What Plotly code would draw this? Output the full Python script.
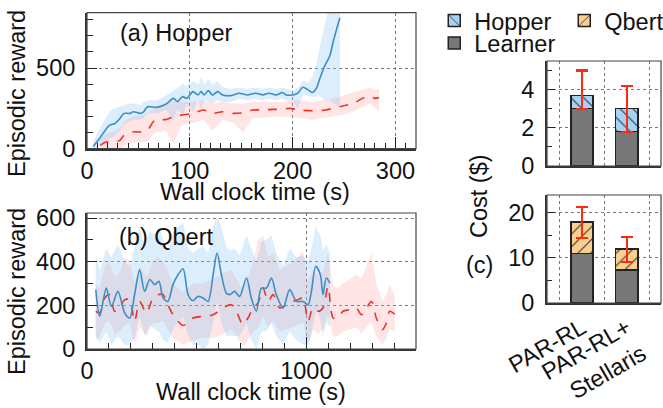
import plotly.graph_objects as go

# ---------------- data ----------------
# (a) Hopper
hop_t_st = [6, 12, 22, 27, 32, 36, 42, 45, 52, 55, 59, 68, 77, 84, 88, 93, 97, 103, 108, 111,
            114, 118, 122, 127, 132, 140, 148, 156, 164, 171, 177, 184, 190, 194, 200, 205, 210, 215, 219, 223,
            226, 231, 236, 240, 246]
hop_st = [14, 62, 146, 156, 187, 219, 219, 229, 219, 229, 260, 256, 277, 312, 292, 323, 312, 354, 333, 354,
          333, 360, 333, 354, 333, 329, 344, 333, 344, 333, 344, 333, 348, 333, 333, 344, 381, 365, 348, 373,
          427, 510, 573, 677, 812]
hop_st_hi = [40, 120, 230, 250, 260, 270, 280, 280, 270, 290, 300, 300, 330, 360, 380, 400, 390, 420, 400, 440,
             400, 430, 400, 420, 380, 370, 380, 370, 380, 370, 380, 370, 380, 370, 360, 380, 420, 410, 440, 520,
             620, 760, 900, 900, 900]
hop_st_lo = [0, 10, 60, 80, 110, 150, 170, 180, 180, 190, 220, 220, 240, 170, 250, 200, 280, 230, 300, 250,
             300, 290, 280, 300, 290, 290, 310, 300, 310, 300, 310, 300, 310, 300, 300, 250, 330, 330, 320, 320,
             330, 300, 300, 280, 260]

hop_t_pr = [13, 18, 28, 32, 36, 45, 55, 59, 66, 77, 84, 92, 103, 113, 122, 132, 142, 152, 161, 171,
            181, 190, 197, 207, 219, 232, 239, 249, 259, 268, 275, 280, 284]
hop_pr = [21, 40, 44, 52, 83, 104, 104, 115, 177, 181, 198, 208, 219, 240, 219, 229, 219, 223, 240, 240,
          244, 244, 250, 240, 235, 240, 250, 265, 281, 312, 327, 312, 317]
hop_pr_hi = [60, 90, 110, 130, 170, 200, 210, 220, 260, 270, 300, 290, 290, 300, 280, 290, 280, 280, 290, 290,
             290, 290, 300, 300, 290, 300, 310, 330, 350, 370, 380, 370, 370]
hop_pr_lo = [0, 0, 0, 0, 20, 40, 40, 50, 100, 110, 30, 150, 160, 180, 110, 180, 160, 100, 190, 190,
             200, 200, 200, 190, 180, 190, 200, 210, 230, 260, 280, 250, 230]

# (b) Qbert
qb_t_st = [40, 58, 88, 111, 141, 172, 195, 217, 240, 263, 286, 309, 328, 347, 369, 392, 415, 438, 461, 483,
           506, 529, 552, 575, 593, 613, 635, 651, 673, 696, 727, 749, 772, 795, 818, 841, 863, 894, 924, 955,
           985, 1008, 1023, 1043, 1064, 1076, 1091, 1107]
qb_st = [272, 150, 279, 195, 264, 165, 142, 249, 363, 264, 318, 295, 310, 234, 218, 295, 340, 368, 249, 221,
         241, 234, 218, 340, 440, 340, 256, 249, 264, 241, 325, 234, 173, 279, 279, 325, 249, 188, 272, 218,
         218, 203, 264, 379, 340, 249, 325, 302]
qb_st_hi = [430, 360, 460, 420, 480, 400, 380, 470, 550, 470, 540, 520, 560, 500, 440, 530, 560, 580, 460, 440,
            460, 470, 440, 560, 610, 560, 470, 450, 460, 430, 520, 460, 400, 490, 500, 520, 440, 380, 460, 420,
            430, 400, 460, 560, 520, 450, 480, 440]
qb_st_lo = [60, 30, 80, 20, 60, 20, 20, 50, 150, 60, 110, 90, 80, 40, 30, 90, 120, 150, 60, 20,
            20, 0, 20, 120, 220, 120, 60, 60, 60, 60, 120, 40, 0, 80, 80, 120, 60, 20, 80, 40,
            20, 20, 60, 180, 140, 60, 120, 100]

qb_t_pr = [40, 58, 81, 103, 126, 149, 172, 195, 217, 240, 271, 301, 324, 347, 369, 392, 438, 483, 529, 575,
           620, 658, 681, 711, 734, 757, 780, 803, 826, 848, 879, 909, 939, 962, 985, 1008, 1030, 1053, 1076, 1099,
           1122, 1145, 1167, 1198, 1228, 1251, 1274, 1297, 1319, 1347, 1365, 1380, 1403]
qb_pr = [173, 165, 234, 249, 173, 188, 226, 226, 127, 218, 165, 234, 249, 249, 203, 157, 108, 142, 150, 157,
         188, 203, 173, 111, 142, 188, 211, 279, 218, 249, 188, 203, 218, 226, 234, 127, 188, 173, 188, 287,
         142, 142, 173, 180, 188, 157, 188, 218, 142, 89, 119, 173, 160]
qb_pr_hi = [300, 280, 380, 400, 330, 350, 420, 400, 300, 380, 330, 400, 420, 400, 360, 300, 260, 300, 300, 320,
            350, 360, 320, 270, 330, 400, 500, 520, 420, 440, 360, 380, 400, 420, 450, 310, 360, 340, 360, 440,
            290, 280, 300, 320, 340, 320, 380, 440, 300, 220, 250, 300, 240]
qb_pr_lo = [40, 60, 120, 130, 70, 80, 110, 120, 20, 100, 60, 120, 120, 130, 90, 50, 20, 40, 50, 50,
            70, 90, 60, 10, 40, 80, 100, 150, 100, 130, 80, 90, 100, 110, 120, 30, 90, 70, 90, 160,
            60, 60, 80, 90, 100, 70, 100, 120, 60, 20, 50, 90, 80]

# (c) Cost
systems = ["PAR-RL", "PAR-RL+<br>Stellaris"]
hop_learner = [3.0, 1.8]
hop_env = [0.7, 1.2]
hop_err_hi = [5.0, 4.2]
hop_err_lo = [3.0, 1.8]
qb_learner = [11.0, 7.3]
qb_env = [7.0, 4.7]
qb_err_hi = [21.3, 14.7]
qb_err_lo = [14.4, 9.1]

# ---------------- styling ----------------
FONT = "Liberation Sans, Arial, Helvetica, sans-serif"
FS = 23.5
BLUE = "#3d8ec6"
RED = "#ee3326"
BLUE_BAND = "rgba(140,195,245,0.30)"
RED_BAND = "rgba(255,150,150,0.25)"
GREY = "#777777"
HOP_C = "#a6d3f5"
QB_C = "#f8cf8e"

fig = go.Figure()


def band(t, hi, lo, color, xa, ya):
    fig.add_trace(go.Scatter(x=list(t) + list(t)[::-1], y=list(hi) + list(lo)[::-1],
                             fill="toself", fillcolor=color, line=dict(width=0),
                             mode="lines", hoverinfo="skip", showlegend=False,
                             xaxis=xa, yaxis=ya))


def line(t, y, color, dash, xa, ya):
    fig.add_trace(go.Scatter(x=t, y=y, mode="lines",
                             line=dict(color=color, width=1.6, dash=dash, shape="spline", smoothing=0.8),
                             showlegend=False, xaxis=xa, yaxis=ya))


band(hop_t_pr, hop_pr_hi, hop_pr_lo, RED_BAND, "x", "y")
band(hop_t_st, hop_st_hi, hop_st_lo, BLUE_BAND, "x", "y")
line(hop_t_pr, hop_pr, RED, "dash", "x", "y")
line(hop_t_st, hop_st, BLUE, "solid", "x", "y")

band(qb_t_pr, qb_pr_hi, qb_pr_lo, RED_BAND, "x2", "y2")
band(qb_t_st, qb_st_hi, qb_st_lo, BLUE_BAND, "x2", "y2")
line(qb_t_pr, qb_pr, RED, "dash", "x2", "y2")
line(qb_t_st, qb_st, BLUE, "solid", "x2", "y2")

outline = dict(color="#222222", width=1.5)
hop_tot = [a + b for a, b in zip(hop_learner, hop_env)]
qb_tot = [a + b for a, b in zip(qb_learner, qb_env)]

fig.add_trace(go.Bar(x=systems, y=hop_learner, name="Learner", width=0.5,
                     marker=dict(color=GREY, line=outline), xaxis="x3", yaxis="y3",
                     legend="legend2", showlegend=True))
fig.add_trace(go.Bar(x=systems, y=hop_env, name="Hopper", width=0.5,
                     marker=dict(color=HOP_C, line=outline,
                                 pattern=dict(shape="\\", fgcolor="#333333", bgcolor=HOP_C, size=9, solidity=0.12)),
                     error_y=dict(type="data", symmetric=False,
                                  array=[h - t for h, t in zip(hop_err_hi, hop_tot)],
                                  arrayminus=[t - l for t, l in zip(hop_tot, hop_err_lo)],
                                  color="#ff2a14", thickness=2.2, width=6),
                     xaxis="x3", yaxis="y3", legend="legend", showlegend=True))
fig.add_trace(go.Bar(x=systems, y=qb_learner, name="Learner", width=0.5,
                     marker=dict(color=GREY, line=outline), xaxis="x4", yaxis="y4", showlegend=False))
fig.add_trace(go.Bar(x=systems, y=qb_env, name="Qbert", width=0.5,
                     marker=dict(color=QB_C, line=outline,
                                 pattern=dict(shape="/", fgcolor="#333333", bgcolor=QB_C, size=9, solidity=0.12)),
                     error_y=dict(type="data", symmetric=False,
                                  array=[h - t for h, t in zip(qb_err_hi, qb_tot)],
                                  arrayminus=[t - l for t, l in zip(qb_tot, qb_err_lo)],
                                  color="#ff2a14", thickness=2.2, width=6),
                     xaxis="x4", yaxis="y4", legend="legend", showlegend=True))

tickfont = dict(family=FONT, size=FS, color="#111")
grid = dict(showgrid=True, gridcolor="#777777", griddash="dot", gridwidth=1)
axline = dict(showline=True, linecolor="#333333", linewidth=2, zeroline=False, automargin=False)

XL = [87 / 663, 416 / 663]
XR = [547 / 663, 661 / 663]

fig.update_layout(
    template="none",
    width=663, height=408, margin=dict(l=0, r=0, t=0, b=0, autoexpand=False),
    paper_bgcolor="white", plot_bgcolor="white",
    font=dict(family=FONT, size=FS, color="#111"),
    barmode="stack",
    xaxis=dict(domain=XL, anchor="y", range=[0, 320], tickvals=[0, 100, 200, 300],
               ticks="inside", ticklen=12, tickcolor="#222", tickfont=tickfont, ticklabelstandoff=0,
               minor=dict(dtick=10, ticks="inside", ticklen=6, tickcolor="#222", showgrid=False),
               **grid, **axline),
    yaxis=dict(domain=[0.6355, 0.9689], anchor="x", range=[0, 843], tickvals=[0, 500],
               ticks="inside", ticklen=10, tickcolor="#222", tickfont=tickfont, ticklabelstandoff=5,
               minor=dict(dtick=100, ticks="inside", ticklen=6, tickcolor="#222", showgrid=False),
               **grid, **axline),
    xaxis2=dict(domain=XL, anchor="y2", range=[0, 1500], tickvals=[0, 1000],
                ticks="inside", ticklen=12, tickcolor="#222", tickfont=tickfont, ticklabelstandoff=0,
                minor=dict(dtick=100, ticks="inside", ticklen=6, tickcolor="#222", showgrid=False),
                **grid, **axline),
    yaxis2=dict(domain=[0.1446, 0.4779], anchor="x2", range=[0, 623], tickvals=[0, 200, 400, 600],
                ticks="inside", ticklen=10, tickcolor="#222", tickfont=tickfont, ticklabelstandoff=5,
                minor=dict(dtick=100, ticks="inside", ticklen=6, tickcolor="#222", showgrid=False),
                **grid, **axline),
    xaxis3=dict(domain=XR, anchor="y3", range=[-0.78, 1.76], showticklabels=False,
                tickson="boundaries", ticks="", **grid, **axline),
    yaxis3=dict(domain=[0.5931, 0.8505], anchor="x3", range=[0, 5.5], tickvals=[0, 2, 4],
                ticks="inside", ticklen=8, tickcolor="#222", tickfont=tickfont, ticklabelstandoff=6,
                minor=dict(dtick=1, ticks="inside", ticklen=5, tickcolor="#222", showgrid=False),
                **grid, **axline),
    xaxis4=dict(domain=XR, anchor="y4", range=[-0.78, 1.76], tickangle=-30,
                tickson="boundaries", ticks="", tickfont=tickfont, **grid, **axline),
    yaxis4=dict(domain=[0.2574, 0.5221], anchor="x4", range=[0, 24], tickvals=[0, 10, 20],
                ticks="inside", ticklen=8, tickcolor="#222", tickfont=tickfont, ticklabelstandoff=6,
                minor=dict(dtick=5, ticks="inside", ticklen=5, tickcolor="#222", showgrid=False),
                **grid, **axline),
    legend=dict(orientation="h", x=0.655, y=1.003, xanchor="left", yanchor="top",
                font=dict(family=FONT, size=FS), bgcolor="rgba(0,0,0,0)", traceorder="normal",
                entrywidth=85, itemwidth=30, tracegroupgap=0),
    legend2=dict(orientation="h", x=0.655, y=0.948, xanchor="left", yanchor="top",
                 font=dict(family=FONT, size=FS), bgcolor="rgba(0,0,0,0)", itemwidth=30),
)

# frames (top/right borders)
for xr, yr in [("x", "y"), ("x2", "y2"), ("x3", "y3"), ("x4", "y4")]:
    fig.add_shape(type="rect", xref=f"{xr} domain", yref=f"{yr} domain", x0=0, x1=1, y0=0, y1=1,
                  line=dict(color="#444444", width=1.2), layer="above")

ann = dict(showarrow=False, font=dict(family=FONT, size=FS, color="#111"))
fig.add_annotation(text="(a) Hopper", xref="paper", yref="paper", x=118 / 663, y=1 - 33 / 408,
                   xanchor="left", yanchor="middle", **ann)
fig.add_annotation(text="(b) Qbert", xref="paper", yref="paper", x=117 / 663, y=1 - 237 / 408,
                   xanchor="left", yanchor="middle", **ann)
fig.add_annotation(text="Wall clock time (s)", xref="paper", yref="paper", x=255 / 663, y=1 - 192 / 408,
                   xanchor="center", yanchor="middle", **ann)
fig.add_annotation(text="Wall clock time (s)", xref="paper", yref="paper", x=251 / 663, y=1 - 392 / 408,
                   xanchor="center", yanchor="middle", **ann)
fig.add_annotation(text="Episodic reward", xref="paper", yref="paper", x=17 / 663, y=1 - 94 / 408,
                   xanchor="center", yanchor="middle", textangle=-90, **ann)
fig.add_annotation(text="Episodic reward", xref="paper", yref="paper", x=17 / 663, y=1 - 292 / 408,
                   xanchor="center", yanchor="middle", textangle=-90, **ann)
fig.add_annotation(text="Cost ($)", xref="paper", yref="paper", x=479 / 663, y=1 - 196 / 408,
                   xanchor="center", yanchor="middle", textangle=-90, **ann)
fig.add_annotation(text="(c)", xref="paper", yref="paper", x=479 / 663, y=1 - 265 / 408,
                   xanchor="center", yanchor="middle", **ann)

fig.write_html("out.html", config={"displayModeBar": False},
               post_script="document.body.style.margin='0';document.body.style.padding='0';"
                           "document.documentElement.style.overflow='hidden';")
